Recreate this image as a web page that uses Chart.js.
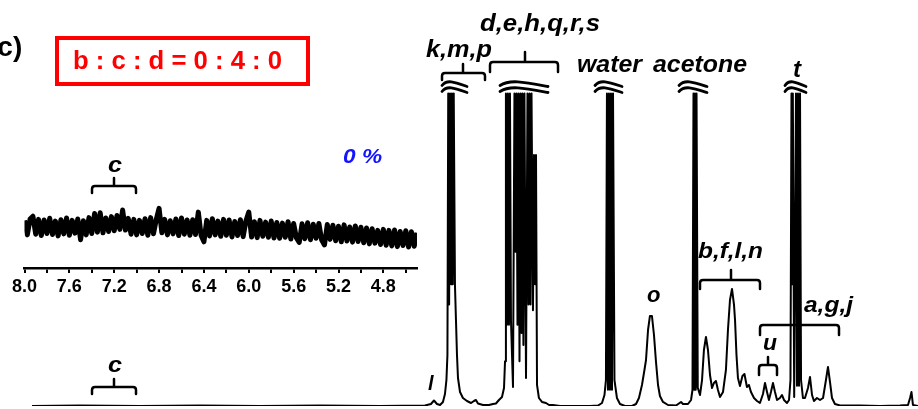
<!DOCTYPE html>
<html>
<head>
<meta charset="utf-8">
<script src="https://cdn.jsdelivr.net/npm/chart.js@4.4.1/dist/chart.umd.min.js"></script>
<style>
  body { margin: 0; background: #fff; }
  #wrap { position: relative; width: 918px; height: 409px; overflow: hidden; }
  #main { position: absolute; left: 0; top: 0; }
  #inset { position: absolute; left: 0; top: 130px; }
</style>
</head>
<body>
<div id="wrap">
  <canvas id="main" width="918" height="409"></canvas>
  <canvas id="inset" width="440" height="170"></canvas>
</div>
<script>
// main spectrum, chemical shift (ppm) and intensity (a.u., tall peaks cut at 77)
const mainPpm = [
  7.933, 7.506, 6.971, 6.437, 5.902, 5.368, 4.833, 4.432, 4.379, 4.352, 4.325, 4.298, 4.272, 4.254,
  4.241, 4.232, 4.225, 4.217, 4.209, 4.200, 4.192, 4.184, 4.176, 4.165, 4.156, 4.147, 4.138, 4.120,
  4.094, 4.058, 4.022, 3.996, 3.978, 3.960, 3.915, 3.862, 3.826, 3.800, 3.773, 3.746, 3.728, 3.719,
  3.711, 3.702, 3.693, 3.684, 3.675, 3.666, 3.648, 3.635, 3.626, 3.617, 3.608, 3.599, 3.590, 3.581,
  3.572, 3.564, 3.555, 3.546, 3.532, 3.519, 3.510, 3.501, 3.492, 3.483, 3.470, 3.461, 3.452, 3.443,
  3.434, 3.417, 3.390, 3.354, 3.327,
  3.292, 3.229, 3.096, 2.962, 2.891, 2.855, 2.833, 2.820, 2.811, 2.802, 2.793, 2.784, 2.775, 2.766,
  2.757, 2.744, 2.722, 2.695, 2.650, 2.588, 2.552, 2.526, 2.499, 2.477, 2.463, 2.445, 2.428, 2.410,
  2.392, 2.374, 2.356, 2.339, 2.312, 2.267, 2.196, 2.151, 2.134, 2.089, 2.062, 2.049,
  2.040, 2.033, 2.027, 2.020, 2.013, 2.002, 1.982, 1.964, 1.947, 1.929, 1.911, 1.893, 1.875, 1.858,
  1.840, 1.822, 1.804, 1.777, 1.751, 1.733, 1.715, 1.697, 1.679, 1.670, 1.657, 1.644, 1.626, 1.604,
  1.586, 1.564, 1.546, 1.528, 1.501, 1.474, 1.448, 1.421, 1.403, 1.385, 1.368, 1.350, 1.332, 1.314,
  1.296, 1.270, 1.252, 1.234, 1.207, 1.189, 1.176,
  1.167, 1.160, 1.155, 1.143, 1.127, 1.118, 1.109, 1.100, 1.091, 1.082, 1.065, 1.047, 1.020, 1.002,
  0.984, 0.967, 0.940, 0.913, 0.886, 0.860, 0.842, 0.824, 0.806, 0.780, 0.735, 0.557, 0.379, 0.200,
  0.129, 0.111, 0.098, 0.085, 0.040
];
const mainInt = [
  0, 0.12, 0, 0.12, 0, 0.12, 0, 0.12, 0.49, 1.35, 0.49, 0.25, 0.99, 2.96,
  6.4, 12.6, 77, 25, 77, 30, 77, 30, 77, 29.8, 21.2, 12.6, 6.9, 3.45,
  1.97, 1.23, 0.74, 1.23, 1.48, 0.62, 0.25, 0.25, 0.49, 0.62, 1.48, 2.22, 4.43, 11,
  77, 20, 77, 20, 77, 21, 4.7, 77, 38, 77, 20, 77, 11, 77,
  18, 77, 15, 77, 6.9, 77, 25, 77, 25, 77, 23.6, 61.8, 30, 61.8,
  5.2, 1.97, 0.99, 0.74, 0.25,
  0.25, 0, 0, 0, 0.12, 0.74, 2.71, 6.4, 77, 4, 77, 4, 77, 4,
  77, 6.4, 1.97, 0.49, 0, 0, 0.49, 1.97, 5.17, 8.87, 11.33, 18.72, 22.17, 22.17,
  17.49, 10.84, 5.17, 2.46, 0.99, 0.25, 0.12, 0.99, 0.49, 0.49, 1.48, 3.94,
  77, 4, 77, 4, 77, 4.5, 2.71, 6.4, 13.79, 17.0, 13.79, 7.64, 4.43, 5.67,
  6.16, 3.94, 2.22, 3.45, 8.87, 18.72, 26.11, 28.82, 24.88, 21.18, 12.56, 6.9, 4.93, 7.39,
  7.88, 4.68, 5.17, 3.45, 1.97, 1.23, 0.74, 2.96, 5.67, 3.45, 1.48, 3.45, 5.67, 3.45,
  1.48, 1.97, 2.71, 1.48, 0.74, 1.48, 6.4,
  77, 30, 77, 2.2, 77, 5, 77, 5, 77, 6.4, 1.97, 1.97, 4.43, 7.14,
  2.71, 1.23, 1.97, 1.48, 1.97, 6.4, 9.61, 5.91, 1.97, 0.49, 0.12, 0.12, 0, 0.12,
  0.25, 1.97, 3.45, 0.25, 0
];

// inset, 8.0 -> 4.5 ppm sampled every 0.025 ppm
const insetStart = 8.0;
const insetStep = 0.025;
const insetInt = [
  13.8, 9.6, 14.2, 15.0, 9.8, 14.1, 9.4, 13.9, 10.0, 14.4,
  9.7, 13.6, 9.3, 14.0, 9.9, 14.5, 9.5, 13.8, 10.1, 14.2,
  8.2, 13.7, 9.6, 14.6, 10.0, 15.8, 10.4, 16.0, 10.2, 14.5,
  10.6, 14.9, 10.8, 15.2, 11.2, 16.8, 11.0, 14.4, 9.8, 14.1,
  9.6, 13.8, 10.0, 14.3, 9.5, 14.6, 9.9, 14.0, 17.3, 10.2,
  14.1, 9.6, 13.7, 9.9, 14.2, 9.4, 14.5, 9.8, 13.9, 9.5,
  14.0, 9.7, 16.2, 9.4, 7.6, 13.8, 9.3, 14.3, 9.6, 13.6,
  9.2, 14.1, 9.5, 13.9, 9.0, 13.5, 9.4, 14.0, 9.1, 13.7,
  16.2, 9.0, 13.4, 8.8, 13.8, 9.2, 13.3, 8.9, 13.6, 8.7,
  13.2, 8.6, 13.0, 8.9, 13.4, 8.4, 12.9, 8.7, 7.4, 12.8,
  8.5, 13.1, 8.2, 12.7, 8.6, 12.9, 8.1, 6.7, 12.6, 8.3,
  12.4, 7.9, 12.1, 7.6, 12.5, 7.8, 11.9, 7.5, 12.2, 7.7,
  11.8, 7.3, 11.6, 7.0, 11.4, 7.2, 10.9, 6.8, 11.2, 6.6,
  10.9, 6.4, 11.0, 6.2, 10.6, 6.5, 10.8, 6.1, 10.5, 6.3, 10.2
];
const insetTickLabels = ['8.0', '7.6', '7.2', '6.8', '6.4', '6.0', '5.6', '5.2', '4.8'];

const FONT = '"Liberation Sans", Arial, sans-serif';
const BLACK = '#000';

// [text, left, baseline, size, width to fit, italic, colour]
const labels = [
  ['(c)', -12, 56, 28, null, false, BLACK],
  ['b : c : d = 0 : 4 : 0', 73, 69, 26, 209, false, '#ff0000'],
  ['0 %', 343, 163, 20, 39, true, '#1414ff'],
  ['c', 108, 172, 22, 14, true, BLACK],
  ['c', 108, 372, 22, 14, true, BLACK],
  ['l', 428, 390, 20, null, true, BLACK],
  ['k,m,p', 426, 57, 23, 66, true, BLACK],
  ['d,e,h,q,r,s', 480, 31, 24, 120, true, BLACK],
  ['water', 577, 72, 24, 65, true, BLACK],
  ['acetone', 653, 72, 24, 94, true, BLACK],
  ['t', 793, 77, 24, null, true, BLACK],
  ['o', 647, 302, 22, null, true, BLACK],
  ['b,f,l,n', 698, 258, 22, 65, true, BLACK],
  ['u', 763, 350, 22, 14, true, BLACK],
  ['a,g,j', 804, 312, 22, 49, true, BLACK]
];
// [x1, x2, centre, y, centre tick top, ends bottom]
const braces = [
  [92, 136, 114, 186, 178, 193],
  [92, 136, 114, 387, 379, 394],
  [442, 485, 463, 73, 64, 80],
  [490, 558, 525, 62, 52, 72],
  [700, 760, 731, 280, 270, 289],
  [759, 777, 768, 365, 357, 375],
  [760, 839, 799, 325, 318, 335]
];
// axis break marks over the cut peaks [x1, x2]
const breaks = [[442, 467], [500, 548], [595, 622], [679, 707], [785, 806]];

function drawLabel(ctx, l) {
  const [t, x, y, size, w, it, col] = l;
  ctx.save();
  ctx.font = (it ? 'italic ' : '') + 'bold ' + size + 'px ' + FONT;
  ctx.fillStyle = col;
  ctx.textBaseline = 'alphabetic';
  const m = ctx.measureText(t).width;
  ctx.translate(x, y);
  if (w) ctx.scale(w / m, 1);
  ctx.fillText(t, 0, 0);
  ctx.restore();
}

function drawBrace(ctx, b) {
  const [x1, x2, cx, y, up, down] = b;
  const r = 3;
  ctx.beginPath();
  ctx.moveTo(x1, down);
  ctx.lineTo(x1, y + r);
  ctx.quadraticCurveTo(x1, y, x1 + r, y);
  ctx.lineTo(x2 - r, y);
  ctx.quadraticCurveTo(x2, y, x2, y + r);
  ctx.lineTo(x2, down);
  ctx.moveTo(cx, y);
  ctx.lineTo(cx, up);
  ctx.stroke();
}

function drawWave(ctx, x1, x2, y) {
  const w = x2 - x1;
  ctx.beginPath();
  ctx.moveTo(x1, y + 1.5);
  ctx.bezierCurveTo(x1 + w * 0.2, y - 5, x1 + w * 0.5, y - 2, x2, y + 2.5);
  ctx.stroke();
}

const annotate = {
  id: 'annotate',
  afterDatasetsDraw(chart) {
    const ctx = chart.ctx;
    ctx.save();
    ctx.strokeStyle = '#ff0000';
    ctx.lineWidth = 4;
    ctx.strokeRect(57, 38, 251, 46);

    ctx.strokeStyle = BLACK;
    ctx.lineWidth = 2.5;
    ctx.lineCap = 'round';
    ctx.lineJoin = 'round';
    braces.forEach(b => drawBrace(ctx, b));
    ctx.lineWidth = 2.8;
    breaks.forEach(([a, b]) => {
      drawWave(ctx, a, b, 84);
      drawWave(ctx, a, b, 90);
    });
    labels.forEach(l => drawLabel(ctx, l));
    ctx.restore();
  }
};

new Chart(document.getElementById('main'), {
  type: 'line',
  data: {
    datasets: [{
      data: mainPpm.map((p, i) => ({ x: p, y: mainInt[i] })),
      borderColor: BLACK,
      borderWidth: 2,
      borderJoinStyle: 'round',
      pointRadius: 0,
      tension: 0,
      fill: false
    }]
  },
  options: {
    responsive: false,
    animation: false,
    devicePixelRatio: 1,
    events: [],
    layout: { padding: { left: 0, right: 0, top: 0, bottom: 3 } },
    plugins: { legend: { display: false }, tooltip: { enabled: false } },
    scales: {
      x: { type: 'linear', reverse: true, min: 0.04, max: 8.218, display: false },
      y: { min: 0, max: 100, display: false }
    }
  },
  plugins: [annotate]
});

new Chart(document.getElementById('inset'), {
  type: 'line',
  data: {
    datasets: [{
      data: insetInt.map((v, i) => ({ x: insetStart - i * insetStep, y: v })),
      borderColor: BLACK,
      borderWidth: 5,
      borderJoinStyle: 'round',
      pointRadius: 0,
      tension: 0
    }]
  },
  options: {
    responsive: false,
    animation: false,
    devicePixelRatio: 1,
    events: [],
    layout: { padding: { left: 24.5, right: 23, top: 0, bottom: 0 } },
    plugins: { legend: { display: false }, tooltip: { enabled: false } },
    scales: {
      x: {
        type: 'linear', reverse: true, min: 4.5, max: 8.0,
        afterFit(s) { s.height = 32; },
        border: { display: true, color: BLACK, width: 2.5 },
        grid: { display: true, drawOnChartArea: false, drawTicks: true, tickLength: 5, color: BLACK, lineWidth: 2 },
        ticks: {
          stepSize: 0.2, includeBounds: false, autoSkip: false, maxRotation: 0, minRotation: 0, padding: 3,
          color: BLACK, font: { family: FONT, size: 18, weight: 'bold' },
          callback: v => {
            const s = (Math.round(v * 10) / 10).toFixed(1);
            return insetTickLabels.includes(s) ? s : '';
          }
        }
      },
      y: { min: 0, max: 40, display: false }
    }
  }
});
</script>
</body>
</html>
